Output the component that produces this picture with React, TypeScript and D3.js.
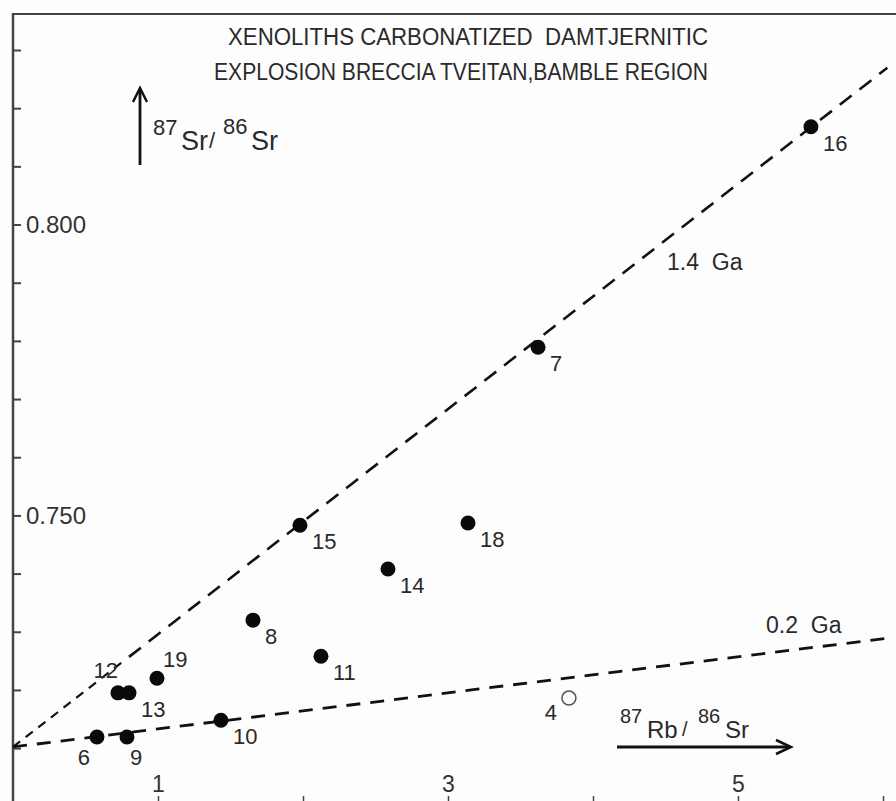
import { useEffect, useRef } from "react";
import * as d3 from "d3";

// sample numbers, 87Rb/86Sr, 87Sr/86Sr
const ids = ["16", "7", "15", "18", "14", "8", "11", "19", "12", "13", "10", "6", "9", "4"];
const rbSr = [5.503, 3.621, 1.979, 3.138, 2.586, 1.655, 2.124, 0.993, 0.724, 0.8, 1.434, 0.579, 0.786, 3.834];
const srSr = [0.8168, 0.7789, 0.7483, 0.7487, 0.7408, 0.732, 0.7258, 0.722, 0.7195, 0.7195, 0.7148, 0.7119, 0.7119, 0.7186];
const filled = [true, true, true, true, true, true, true, true, true, true, true, true, true, false];
// label side for each point
const labelSide = ["se", "se", "se", "se", "se", "se", "se", "ne", "nw", "se", "se", "sw", "s", "w"];

// isochrons
const isoNames = ["1.4  Ga", "0.2  Ga"];
const isoIntercept = [0.7102, 0.7102];
const isoSlope = [0.01936, 0.0031];
const isoEnd = 6.03;

const yTicks = d3.range(0.71, 0.8351, 0.01);
const yLabels = ["0.800", "0.750"];
const xTicks = [1, 2, 3, 4, 5, 6];
const xLabels = ["1", "3", "5"];

const W = 896;
const H = 801;
const FONT = "'Liberation Sans', Arial, sans-serif";
const INK = "#2a2a2a";

export default function App() {
  const ref = useRef<SVGSVGElement>(null);

  useEffect(() => {
    document.body.style.margin = "0";
    const svg = d3.select(ref.current);
    svg.selectAll("*").remove();

    const x = d3.scaleLinear().domain([0, 6]).range([13, 883]);
    const y = d3.scaleLinear().domain([0.7, 0.83]).range([806.3, 50]);

    svg.append("rect").attr("width", W).attr("height", H).attr("fill", "#fdfdfd");

    // frame
    svg.append("line").attr("x1", 13).attr("x2", W).attr("y1", 14).attr("y2", 14)
      .attr("stroke", "#444").attr("stroke-width", 2);
    svg.append("line").attr("x1", 13).attr("x2", 13).attr("y1", 13).attr("y2", H)
      .attr("stroke", "#444").attr("stroke-width", 2.5);

    const yAxis = svg.append("g")
      .attr("transform", "translate(13,0)")
      .call(d3.axisRight(y).tickValues(yTicks).tickSize(8).tickSizeOuter(0).tickPadding(5)
        .tickFormat(d => {
          const s = d3.format(".3f")(d as number);
          return yLabels.includes(s) ? s : "";
        }));
    yAxis.select(".domain").remove();
    yAxis.selectAll("line").attr("stroke", "#444").attr("stroke-width", 2);
    yAxis.selectAll("text").attr("font-family", FONT).attr("font-size", 24).attr("fill", "#333");

    const xAxis = svg.append("g")
      .attr("transform", `translate(0,${H})`)
      .call(d3.axisTop(x).tickValues(xTicks).tickSize(5).tickSizeOuter(0).tickPadding(4)
        .tickFormat(d => (xLabels.includes(String(d)) ? String(d) : "")));
    xAxis.select(".domain").remove();
    xAxis.selectAll("line").attr("stroke", "#444").attr("stroke-width", 1.5);
    xAxis.selectAll("text").attr("font-family", FONT).attr("font-size", 23).attr("fill", "#333")
      .attr("dy", "0");

    // isochrons
    isoNames.forEach((name, k) => {
      const f = (t: number) => isoIntercept[k] + isoSlope[k] * t;
      const path = d3.line<number>().x(t => x(t)).y(t => y(f(t)));
      if (k === 0) {
        svg.append("path").attr("d", path([0, 0.78])).attr("fill", "none")
          .attr("stroke", "#111").attr("stroke-width", 2.2).attr("stroke-dasharray", "9 7");
        svg.append("path").attr("d", path([0.8, isoEnd])).attr("fill", "none")
          .attr("stroke", "#111").attr("stroke-width", 2.6).attr("stroke-dasharray", "15 10");
      } else {
        svg.append("path").attr("d", path([0, isoEnd])).attr("fill", "none")
          .attr("stroke", "#111").attr("stroke-width", 2.8).attr("stroke-dasharray", "14 10");
      }
    });

    svg.append("text").attr("x", 667).attr("y", 270).text(isoNames[0]).style("white-space", "pre")
      .attr("font-family", FONT).attr("font-size", 23).attr("fill", INK);
    svg.append("text").attr("x", 766).attr("y", 633).text(isoNames[1]).style("white-space", "pre")
      .attr("font-family", FONT).attr("font-size", 23).attr("fill", INK);

    // points
    const pts = ids.map((id, i) => ({ id, rx: rbSr[i], sr: srSr[i], full: filled[i], side: labelSide[i] }));
    svg.selectAll("circle.pt").data(pts).join("circle")
      .attr("class", "pt")
      .attr("cx", d => x(d.rx)).attr("cy", d => y(d.sr))
      .attr("r", d => (d.full ? 7.5 : 7))
      .attr("fill", d => (d.full ? "#0a0a0a" : "none"))
      .attr("stroke", d => (d.full ? "none" : "#555"))
      .attr("stroke-width", 1.5);

    const offs: Record<string, [number, number, string]> = {
      se: [12, 24, "start"],
      ne: [6, -11, "start"],
      nw: [0, -15, "end"],
      sw: [-7, 28, "end"],
      s: [3, 28, "start"],
      w: [-12, 22, "end"],
    };
    svg.selectAll("text.lbl").data(pts).join("text")
      .attr("class", "lbl")
      .attr("x", d => x(d.rx) + offs[d.side][0])
      .attr("y", d => y(d.sr) + offs[d.side][1])
      .attr("text-anchor", d => offs[d.side][2])
      .attr("font-family", FONT).attr("font-size", 22).attr("fill", INK)
      .text(d => d.id);

    // title
    const title = ["XENOLITHS CARBONATIZED  DAMTJERNITIC", "EXPLOSION BRECCIA TVEITAN,BAMBLE REGION"];
    svg.append("text").attr("x", 228).attr("y", 45).attr("textLength", 480).attr("lengthAdjust", "spacingAndGlyphs")
      .attr("font-family", FONT).attr("font-size", 23).attr("fill", INK).style("white-space", "pre").text(title[0]);
    svg.append("text").attr("x", 214).attr("y", 80).attr("textLength", 494).attr("lengthAdjust", "spacingAndGlyphs")
      .attr("font-family", FONT).attr("font-size", 23).attr("fill", INK).text(title[1]);

    // arrows for axis names
    const ann = svg.append("g");
    const head = (p: [number, number][]) =>
      ann.append("path").attr("d", d3.line()(p)).attr("fill", "none").attr("stroke", "#111")
        .attr("stroke-width", 2.5);

    ann.append("line").attr("x1", 140).attr("x2", 140).attr("y1", 165).attr("y2", 89)
      .attr("stroke", "#111").attr("stroke-width", 2.8);
    head([[133, 102], [140, 88], [147, 102]]);
    const lab = (tx: number, ty: number, s: string, fs: number) =>
      ann.append("text").attr("x", tx).attr("y", ty).attr("font-family", FONT)
        .attr("font-size", fs).attr("fill", INK).text(s);
    lab(153, 135, "87", 22);
    lab(181, 150, "Sr", 27);
    lab(209, 148, "/", 22);
    lab(223, 134, "86", 22);
    lab(251, 150, "Sr", 27);

    ann.append("line").attr("x1", 617).attr("x2", 790).attr("y1", 747).attr("y2", 747)
      .attr("stroke", "#111").attr("stroke-width", 2.8);
    head([[776, 740], [791, 747], [776, 754]]);
    lab(620, 723, "87", 20);
    lab(647, 738, "Rb", 24);
    lab(682, 736, "/", 20);
    lab(698, 723, "86", 20);
    lab(725, 738, "Sr", 24);
  }, []);

  return <svg ref={ref} width={W} height={H} style={{ display: "block" }}></svg>;
}
